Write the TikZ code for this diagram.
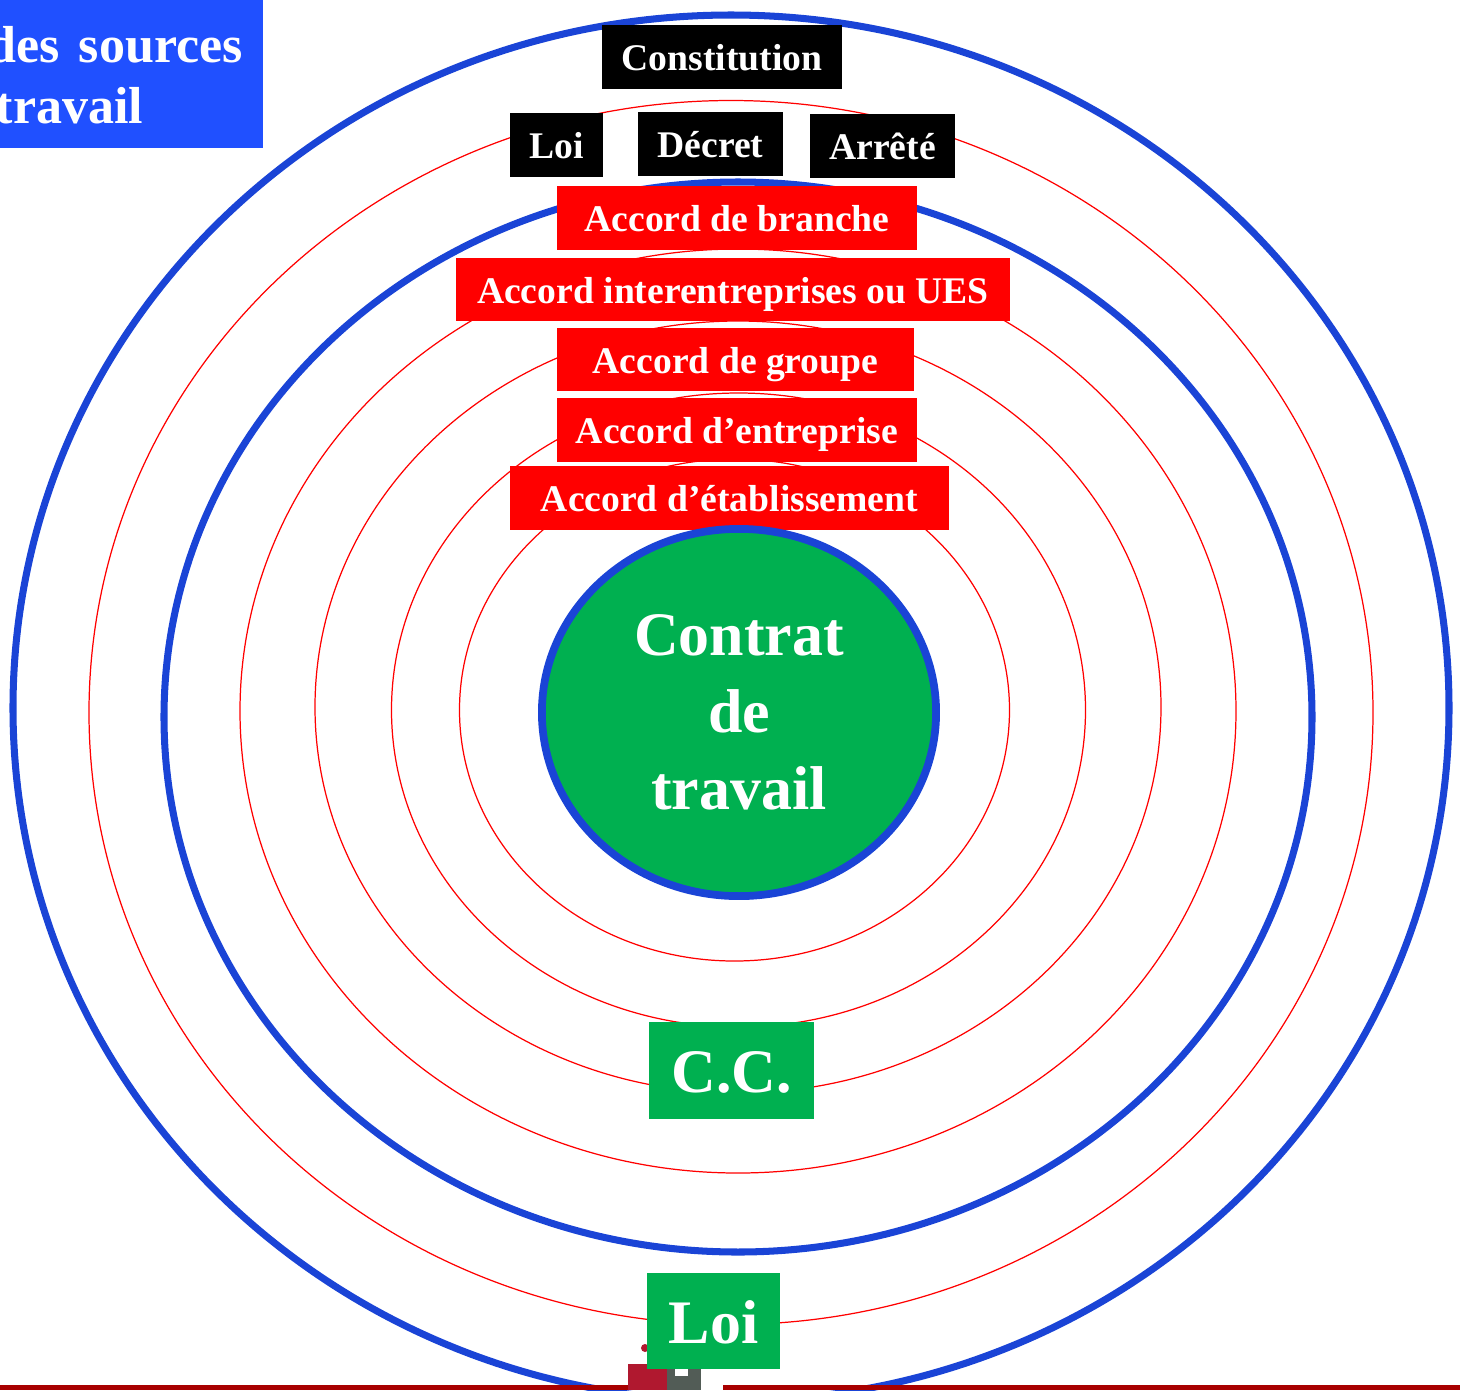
\documentclass[tikz,border=0pt]{standalone}
\usepackage{fontspec}
\setmainfont{Liberation Serif}
\usepackage{tikz}
\usetikzlibrary{
	shapes.geometric,
	positioning
}
\definecolor{vertCC}{HTML}{00B050}
\definecolor{bleuAnneau}{HTML}{1A44D6}
\definecolor{bleuTitre}{HTML}{2050FF}
\definecolor{rougeBas}{HTML}{A80000}
\definecolor{logoRouge}{HTML}{B0182F}
\definecolor{logoGris}{HTML}{525C56}
\tikzset{
	source/.style={rectangle,inner sep=0pt,text=white,text depth=0pt,
		text height=0.27cm,font=\bfseries\fontsize{10.7}{12}\selectfont},
	norme/.style={source,fill=black},
	accord/.style={source,fill=red},
	socle/.style={source,fill=vertCC,text height=0.446cm,
		font=\bfseries\fontsize{17.6}{21.9}\selectfont},
	contratstyle/.style={ellipse,inner sep=0pt,text=white,fill=vertCC,draw=bleuAnneau,
		line width=2.2pt,align=center,font=\bfseries\fontsize{17.6}{21.9}\selectfont},
	anneau/.style={draw=red,line width=0.35pt},
	cercle/.style={draw=bleuAnneau,line width=2pt}
}
\newcommand{\tikzSource}[4][]{\node (#4) at #2 [#1]{#3};}

\begin{document}
\begin{tikzpicture}[x=0.01cm,y=-0.01cm]
	\useasboundingbox (0,0) rectangle (1460,1390);
	\clip (0,0) rectangle (1460,1390);
	
	% anneaux
	\draw[cercle] (731,708) ellipse [x radius=718, y radius=693];
	\draw[anneau] (731,712.5) ellipse [x radius=642, y radius=612];
	\draw[cercle] (738,717) ellipse [x radius=574, y radius=535];
	\draw[anneau] (738,711) ellipse [x radius=498, y radius=462];
	\draw[anneau] (738,707) ellipse [x radius=423, y radius=386];
	\draw[anneau] (738.5,710) ellipse [x radius=347, y radius=317];
	\draw[anneau] (734.5,710) ellipse [x radius=275, y radius=251];
	
	% bas de page
	\fill[rougeBas] (0,1385) rectangle (628,1390);
	\fill[rougeBas] (723,1385) rectangle (1460,1390);
	\fill[logoRouge] (628,1364) rectangle (667,1390);
	\fill[logoGris] (667,1363) rectangle (701,1390);
	\fill[white] (675,1363) rectangle (688,1376);
	\fill[logoRouge] (645,1348) circle [radius=4];
	
	% titre
	\node (titre) at (131.5,74) [rectangle,fill=bleuTitre,minimum width=2.63cm,minimum height=1.48cm]{};
	\node (titreA) at (-13,62) [anchor=base west,text=white,inner sep=0pt,
		font=\bfseries\fontsize{14.8}{17.4}\selectfont]{des\hspace{0.06cm} sources};
	\node (titreB) at (-5,123) [anchor=base west,text=white,inner sep=0pt,
		font=\bfseries\fontsize{14.8}{17.4}\selectfont]{travail};
	
	\tikzSource[norme,minimum width=2.4cm,minimum height=0.64cm]{(722,57)}{Constitution}{constitution}
	\tikzSource[norme,minimum width=0.93cm,minimum height=0.64cm]{(556.5,145)}{Loi}{loi}
	\tikzSource[norme,minimum width=1.45cm,minimum height=0.64cm]{(710.5,144)}{Décret}{decret}
	\tikzSource[norme,minimum width=1.45cm,minimum height=0.64cm]{(882.5,146)}{Arrêté}{arrete}
	
	\tikzSource[accord,minimum width=3.6cm,minimum height=0.64cm]{(737,218)}{Accord de branche}{branche}
	\tikzSource[accord,minimum width=5.54cm,minimum height=0.63cm]{(733,289.5)}{Accord interentreprises ou UES}{interentreprises}
	\tikzSource[accord,minimum width=3.57cm,minimum height=0.63cm]{(735.5,359.5)}{Accord de groupe}{groupe}
	\tikzSource[accord,minimum width=3.6cm,minimum height=0.64cm]{(737,430)}{Accord d’entreprise}{entreprise}
	\tikzSource[accord,minimum width=4.39cm,minimum height=0.64cm]{(729.5,498)}{Accord d’établissement}{etablissement}
	
	\node (contrat) at (739,712.5) [contratstyle,minimum width=3.94cm,minimum height=3.67cm]{Contrat\\de\\travail};
	
	\tikzSource[socle,minimum width=1.65cm,minimum height=0.97cm]{(731.5,1070.5)}{C.C.}{cc}
	\tikzSource[socle,minimum width=1.33cm,minimum height=0.96cm]{(713.5,1321)}{Loi}{loiBas}
\end{tikzpicture}
\end{document}
